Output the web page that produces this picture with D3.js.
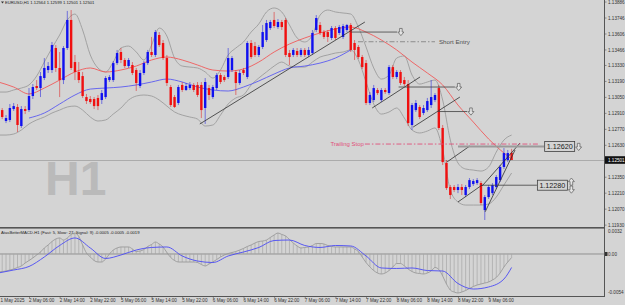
<!DOCTYPE html>
<html>
<head>
<meta charset="utf-8">
<script src="https://cdn.jsdelivr.net/npm/d3@7"></script>
<style>
  html, body { margin: 0; padding: 0; background: #d4d4d4; }
  svg { display: block; font-family: "Liberation Sans", Arial, sans-serif; }
</style>
</head>
<body>
<div id="chart"></div>
<script>
// EURUSD H1, bars from 1 May 22:00 to 9 May 12:00
const opens = [1.12966,1.12939,1.12843,1.12852,1.12948,1.12966,1.12799,1.12948,1.12939,1.13062,
  1.13150,1.13132,1.13220,1.13290,1.13290,1.13483,1.13308,1.13202,1.13483,1.13729,
  1.13360,1.13273,1.13237,1.13053,1.13036,1.13036,1.13045,1.13027,1.13053,1.13202,
  1.13202,1.13351,1.13448,1.13378,1.13325,1.13334,1.13290,1.13150,1.13264,1.13351,
  1.13448,1.13422,1.13597,1.13527,1.13395,1.13141,1.13053,1.13001,1.13159,1.13115,
  1.13132,1.13159,1.13159,1.13159,1.12957,1.13132,1.13053,1.13132,1.13246,1.13229,
  1.13229,1.13290,1.13273,1.13176,1.13290,1.13229,1.13527,1.13500,1.13422,1.13492,
  1.13553,1.13658,1.13729,1.13667,1.13711,1.13729,1.13439,1.13422,1.13457,1.13422,
  1.13466,1.13422,1.13439,1.13641,1.13685,1.13623,1.13623,1.13571,1.13658,1.13615,
  1.13580,1.13641,1.13685,1.13527,1.13492,1.13404,1.13351,1.13001,1.13027,1.13115,
  1.13027,1.13115,1.13088,1.13316,1.13229,1.13273,1.13202,1.13167,1.12808,1.12939,
  1.12966,1.12913,1.12939,1.12983,1.13027,1.13132,1.12782,1.12475,1.12264,1.12264,
  1.12238,1.12264,1.12194,1.12264,1.12290,1.12299,1.12299,1.12062,1.12176,1.12211,
  1.12264,1.12325,1.12440,1.12501,1.12564]
const highs = [1.12983,1.12957,1.12895,1.12992,1.13001,1.12992,1.12974,1.12974,1.13132,1.13167,
  1.13202,1.13273,1.13395,1.13360,1.13536,1.13509,1.13448,1.13500,1.13808,1.13816,
  1.13422,1.13360,1.13273,1.13080,1.13062,1.13053,1.13071,1.13115,1.13237,1.13246,
  1.13369,1.13466,1.13483,1.13395,1.13395,1.13360,1.13308,1.13290,1.13369,1.13466,
  1.13580,1.13641,1.13623,1.13553,1.13422,1.13159,1.13071,1.13159,1.13185,1.13176,
  1.13185,1.13176,1.13185,1.13185,1.13220,1.13159,1.13159,1.13264,1.13264,1.13246,
  1.13483,1.13413,1.13290,1.13290,1.13308,1.13544,1.13553,1.13536,1.13509,1.13685,
  1.13729,1.13729,1.13799,1.13737,1.13729,1.13746,1.13466,1.13483,1.13483,1.13483,
  1.13483,1.13492,1.13641,1.13772,1.13711,1.13641,1.13641,1.13676,1.13676,1.13685,
  1.13694,1.13694,1.13702,1.13553,1.13509,1.13422,1.13378,1.13097,1.13159,1.13132,
  1.13132,1.13132,1.13334,1.13334,1.13290,1.13290,1.13229,1.13202,1.13001,1.13027,
  1.12983,1.12983,1.13045,1.13202,1.13088,1.13159,1.12808,1.12501,1.12282,1.12282,
  1.12290,1.12290,1.12282,1.12343,1.12334,1.12343,1.12317,1.12194,1.12282,1.12299,
  1.12369,1.12457,1.12606,1.12589,1.12599]
const lows = [1.12904,1.12860,1.12825,1.12834,1.12931,1.12746,1.12782,1.12904,1.12922,1.13036,
  1.13115,1.13053,1.13202,1.13264,1.13264,1.13273,1.13053,1.13167,1.13466,1.13290,
  1.13202,1.13176,1.13045,1.12992,1.12992,1.12948,1.12939,1.12992,1.13036,1.13185,
  1.13185,1.13334,1.13351,1.13308,1.13308,1.13246,1.13106,1.13132,1.13246,1.13334,
  1.13404,1.13404,1.13492,1.13378,1.13150,1.12966,1.12957,1.12983,1.13097,1.13106,
  1.13115,1.13097,1.13053,1.12869,1.12817,1.13027,1.13036,1.13115,1.13167,1.13185,
  1.13211,1.13273,1.13071,1.13159,1.13246,1.13211,1.13387,1.13404,1.13404,1.13474,
  1.13536,1.13641,1.13658,1.13650,1.13641,1.13404,1.13334,1.13404,1.13404,1.13404,
  1.13404,1.13404,1.13422,1.13623,1.13597,1.13562,1.13536,1.13553,1.13553,1.13597,
  1.13562,1.13623,1.13448,1.13378,1.13387,1.13299,1.12983,1.12983,1.13009,1.13071,
  1.13009,1.13080,1.13071,1.13211,1.13211,1.13159,1.13150,1.12799,1.12764,1.12922,
  1.12860,1.12895,1.12922,1.12957,1.13009,1.12764,1.12457,1.12238,1.12159,1.12220,
  1.12211,1.12194,1.12176,1.12246,1.12273,1.12282,1.12106,1.11975,1.12159,1.12194,
  1.12246,1.12308,1.12422,1.12483,1.12501]
const closes = [1.12922,1.12878,1.12869,1.12957,1.12974,1.12808,1.12948,1.12931,1.13062,1.13141,
  1.13132,1.13237,1.13308,1.13325,1.13509,1.13308,1.13202,1.13483,1.13729,1.13308,
  1.13273,1.13202,1.13062,1.13018,1.13009,1.12974,1.12974,1.13088,1.13220,1.13229,
  1.13351,1.13439,1.13378,1.13325,1.13378,1.13264,1.13176,1.13264,1.13351,1.13448,
  1.13422,1.13623,1.13509,1.13395,1.13176,1.12983,1.12966,1.13141,1.13115,1.13150,
  1.13159,1.13115,1.13071,1.12939,1.13185,1.13071,1.13141,1.13246,1.13185,1.13202,
  1.13395,1.13395,1.13176,1.13264,1.13264,1.13527,1.13404,1.13422,1.13492,1.13623,
  1.13702,1.13711,1.13676,1.13711,1.13667,1.13422,1.13404,1.13466,1.13422,1.13466,
  1.13422,1.13466,1.13615,1.13746,1.13615,1.13580,1.13580,1.13658,1.13571,1.13667,
  1.13676,1.13685,1.13466,1.13466,1.13404,1.13316,1.13001,1.13071,1.13132,1.13088,
  1.13115,1.13097,1.13316,1.13229,1.13273,1.13176,1.13167,1.12825,1.12983,1.13001,
  1.12878,1.12957,1.13018,1.13053,1.13071,1.12782,1.12483,1.12255,1.12194,1.12238,
  1.12264,1.12238,1.12264,1.12325,1.12317,1.12325,1.12124,1.12176,1.12264,1.12282,
  1.12352,1.12440,1.12562,1.12562,1.12501]

// Bollinger bands, read every second bar
const bandIdx = d3.range(0, 135, 2)
const bandUpper = [1.13097,1.13097,1.13115,1.13132,1.13159,1.13237,1.13360,1.13483,1.13597,1.13729,
  1.13781,1.13641,1.13422,1.13308,1.13273,1.13360,1.13483,1.13500,1.13448,1.13378,
  1.13509,1.13658,1.13588,1.13395,1.13325,1.13316,1.13308,1.13273,1.13220,1.13290,
  1.13422,1.13483,1.13536,1.13623,1.13694,1.13799,1.13834,1.13799,1.13685,1.13571,
  1.13536,1.13597,1.13772,1.13816,1.13799,1.13790,1.13781,1.13667,1.13492,1.13308,
  1.13211,1.13246,1.13395,1.13413,1.13246,1.13167,1.13185,1.13202,1.13027,1.12676,
  1.12475,1.12422,1.12413,1.12404,1.12440,1.12571,1.12676,1.12720]
const bandLower = [1.12720,1.12720,1.12729,1.12764,1.12817,1.12852,1.12878,1.12913,1.12939,1.12966,
  1.12974,1.12939,1.12878,1.12843,1.12852,1.12904,1.12957,1.13027,1.13062,1.13071,
  1.13062,1.13027,1.12974,1.12922,1.12895,1.12878,1.12860,1.12799,1.12808,1.12895,
  1.12992,1.13045,1.13071,1.13159,1.13220,1.13273,1.13325,1.13360,1.13325,1.13316,
  1.13316,1.13360,1.13404,1.13422,1.13439,1.13448,1.13466,1.13378,1.13185,1.12992,
  1.12904,1.12922,1.12957,1.12869,1.12764,1.12738,1.12755,1.12782,1.12589,1.12238,
  1.12133,1.12106,1.12106,1.12106,1.12115,1.12176,1.12282,1.12387]

// moving averages, read every fourth bar
const redIdx = [0,4,8,12,16,20,24,28,32,36,40,44,48,52,56,60,64,68,72,76,80,84,88,92,96,100,104,108,112,116,120,124,128,132,134]
const redMa = [1.13185,1.13141,1.13080,1.13132,1.13202,1.13273,1.13308,1.13273,1.13290,1.13325,
  1.13378,1.13404,1.13378,1.13334,1.13290,1.13281,1.13299,1.13360,1.13448,1.13518,
  1.13571,1.13615,1.13650,1.13667,1.13623,1.13553,1.13466,1.13360,1.13264,1.13159,
  1.12983,1.12834,1.12685,1.12562,1.12510]
const blueIdx = [8,12,16,20,24,28,32,36,40,44,48,52,56,60,64,68,72,76,80,84,88,92]
const blueMa = [1.12869,1.12913,1.12992,1.13071,1.13123,1.13132,1.13141,1.13159,1.13185,1.13211,
  1.13185,1.13141,1.13115,1.13106,1.13141,1.13194,1.13255,1.13308,1.13325,1.13351,
  1.13395,1.13466]

// MACD (5, 27, 9): main value per bar, signal read every fourth bar
const macd = [-0.00254,-0.00247,-0.00240,-0.00226,-0.00212,-0.00190,-0.00169,-0.00127,-0.00092,-0.00056,
  -0.00014,0.00028,0.00085,0.00127,0.00176,0.00212,0.00226,0.00197,0.00226,0.00275,
  0.00296,0.00247,0.00127,0.00014,-0.00042,-0.00092,-0.00113,-0.00113,-0.00070,0.0,
  0.00056,0.00085,0.00099,0.00099,0.00099,0.00071,0.00035,0.00042,0.00063,0.00106,
  0.00134,0.00169,0.00141,0.00099,0.00021,-0.00049,-0.00092,-0.00113,-0.00113,-0.00113,
  -0.00113,-0.00113,-0.00120,-0.00148,-0.00169,-0.00141,-0.00113,-0.00078,-0.00042,-0.00014,
  0.00007,0.00021,0.00035,0.00056,0.00078,0.00106,0.00127,0.00155,0.00176,0.00183,
  0.00197,0.00233,0.00268,0.00296,0.00275,0.00254,0.00204,0.00155,0.00113,0.00085,
  0.00092,0.00099,0.00120,0.00148,0.00148,0.00141,0.00120,0.00106,0.00099,0.00099,
  0.00099,0.00099,0.00099,0.00071,0.00035,-0.00042,-0.00120,-0.00183,-0.00233,-0.00268,
  -0.00282,-0.00268,-0.00233,-0.00183,-0.00134,-0.00134,-0.00169,-0.00212,-0.00247,-0.00268,
  -0.00275,-0.00282,-0.00268,-0.00240,-0.00190,-0.00219,-0.00310,-0.00423,-0.00508,-0.00536,
  -0.00550,-0.00536,-0.00515,-0.00486,-0.00458,-0.00437,-0.00423,-0.00409,-0.00395,-0.00367,
  -0.00331,-0.00268,-0.00183,-0.00113,-0.0005]
const signalIdx = redIdx
const signal = [-0.00268,-0.00226,-0.00176,-0.00042,0.00120,0.00226,0.00085,-0.00063,-0.00014,0.00056,
  0.00092,0.00099,-0.00028,-0.00099,-0.00120,-0.00028,0.00028,0.00092,0.00190,0.00197,
  0.00120,0.00092,0.00120,0.00113,-0.00028,-0.00197,-0.00204,-0.00197,-0.00233,-0.00240,
  -0.00416,-0.00494,-0.00465,-0.00353,-0.0019]

// axes
const priceTicks = [1.13886,1.13746,1.13606,1.13466,1.13330,1.13190,1.13050,1.12910,1.12770,1.12630,1.12350,1.12210,1.12070,1.11930]
const timeTickIdx = [0,8,16,24,32,40,48,56,64,72,80,88,96,104,112,120,128]
const timeLabels = ['1 May 2025','2 May 06:00','2 May 14:00','2 May 22:00','5 May 06:00','5 May 14:00',
  '5 May 22:00','6 May 06:00','6 May 14:00','6 May 22:00','7 May 06:00','7 May 14:00','7 May 22:00',
  '8 May 06:00','8 May 14:00','8 May 22:00','9 May 06:00']

// objects drawn on the chart: [bar1, price1, bar2, price2]
const trendLines = [
  [52.6, 1.12817, 95.7, 1.13711],
  [97.6, 1.12957, 110.1, 1.13229],
  [108.3, 1.12790, 120.5, 1.13053],
  [117.1, 1.12483, 123.1, 1.12624],
  [120.0, 1.12133, 126.3, 1.12282],
  [127.1, 1.12047, 134.9, 1.12589],
  [126.3, 1.12273, 136.2, 1.12650]
]
// horizontal lines ending in a down arrow: [from bar, to bar, price]
const arrowLines = [
  [92, 104.1, 1.13623],
  [104.5, 119.2, 1.13141],
  [114.8, 122.4, 1.12926]
]
const shortEntry = [93.9, 114, 1.13538]
const trailingStop = [95.7, 141.4, 1.12641]
const levelHigh = [120, 142.5, 1.12620]
const levelLow = [126.3, 140.6, 1.12280]

const W = 625, H = 305, axisX = 604
const x = d3.scaleLinear().domain([0, 134]).range([-1.64, 511.6])
const y = d3.scaleLinear().domain([1.13904, 1.11975]).range([0, 220])
const ym = d3.scaleLinear().domain([0.0032, -0.0054]).range([231.3, 292.3])

const svg = d3.select('#chart').append('svg').attr('width', W).attr('height', H)
svg.append('rect').attr('width', W).attr('height', H).attr('fill', '#d4d4d4')

const defs = svg.append('defs')
defs.append('clipPath').attr('id', 'mainClip').append('rect')
  .attr('x', 0).attr('y', 0).attr('width', axisX).attr('height', 227)
defs.append('clipPath').attr('id', 'subClip').append('rect')
  .attr('x', 0).attr('y', 229).attr('width', axisX).attr('height', 67)

const main = svg.append('g').attr('clip-path', 'url(#mainClip)')

// watermark
main.append('text').attr('x', 45).attr('y', 195)
  .attr('font-size', 48).attr('font-weight', 'bold').attr('fill', '#bababa').text('H1')

// bid line
main.append('line').attr('x1', 0).attr('x2', axisX)
  .attr('y1', Math.round(y(closes[134])) + 0.5).attr('y2', Math.round(y(closes[134])) + 0.5)
  .attr('stroke', '#ababab')

const lineOf = (idx, vals, ys) => d3.line()
  .x((d, k) => x(idx[k])).y(d => ys(d)).curve(d3.curveMonotoneX)(vals)

// bollinger bands
main.append('path').attr('d', lineOf(bandIdx, bandUpper, y))
  .attr('fill', 'none').attr('stroke', '#9c9c9c').attr('stroke-width', 0.9)
main.append('path').attr('d', lineOf(bandIdx, bandLower, y))
  .attr('fill', 'none').attr('stroke', '#9c9c9c').attr('stroke-width', 0.9)

// moving averages
main.append('path').attr('d', lineOf(redIdx, redMa, y))
  .attr('fill', 'none').attr('stroke', '#f05a5a').attr('stroke-width', 0.9)
main.append('path').attr('d', lineOf(blueIdx, blueMa, y))
  .attr('fill', 'none').attr('stroke', '#5a5af0').attr('stroke-width', 0.9)

// candles
const bars = d3.range(closes.length)
const up = i => closes[i] >= opens[i]
main.append('g').selectAll('line').data(bars).enter().append('line')
  .attr('x1', i => x(i)).attr('x2', i => x(i))
  .attr('y1', i => y(highs[i])).attr('y2', i => y(lows[i]))
  .attr('stroke', i => up(i) ? '#2020e0' : '#e02020')
  .attr('stroke-opacity', 0.55).attr('stroke-width', 1)
main.append('g').selectAll('rect').data(bars).enter().append('rect')
  .attr('x', i => x(i) - 1.2).attr('width', 2.4)
  .attr('y', i => y(Math.max(opens[i], closes[i])))
  .attr('height', i => Math.max(1, Math.abs(y(opens[i]) - y(closes[i]))))
  .attr('fill', i => up(i) ? '#1010f0' : '#f01010')

// hollow arrow mark, centred on (cx, cy)
function arrow(g, cx, cy, dir) {
  const s = dir === 'down' ? 1 : -1
  const pts = [[-1.3, -3.6], [1.3, -3.6], [1.3, 0], [3, 0], [0, 3.6], [-3, 0], [-1.3, 0]]
  g.append('path')
    .attr('d', 'M' + pts.map(p => (cx + p[0]) + ',' + (cy + s * p[1])).join('L') + 'Z')
    .attr('fill', '#e4e4e4').attr('stroke', '#5a5a5a').attr('stroke-width', 0.7)
}

// chart objects
main.append('g').selectAll('line').data(trendLines).enter().append('line')
  .attr('x1', d => x(d[0])).attr('y1', d => y(d[1]))
  .attr('x2', d => x(d[2])).attr('y2', d => y(d[3]))
  .attr('stroke', '#303030').attr('stroke-width', 0.8)

main.append('g').selectAll('line').data(arrowLines).enter().append('line')
  .attr('x1', d => x(d[0])).attr('x2', d => x(d[1]))
  .attr('y1', d => y(d[2])).attr('y2', d => y(d[2]))
  .attr('stroke', '#404040').attr('stroke-width', 0.8)
arrowLines.forEach(d => arrow(main, x(d[1]) + 3.8, y(d[2]), 'down'))

// short entry
main.append('line').attr('x1', x(shortEntry[0])).attr('x2', x(shortEntry[1]))
  .attr('y1', y(shortEntry[2])).attr('y2', y(shortEntry[2]))
  .attr('stroke', '#8c8c8c').attr('stroke-width', 1).attr('stroke-dasharray', '5,2,1.5,2')
main.append('text').attr('x', x(shortEntry[1]) + 4).attr('y', y(shortEntry[2]) + 2.2)
  .attr('font-size', 6.2).attr('fill', '#505050').text('Short Entry')

// trailing stop
main.append('line').attr('x1', x(trailingStop[0])).attr('x2', x(trailingStop[1]))
  .attr('y1', y(trailingStop[2])).attr('y2', y(trailingStop[2]))
  .attr('stroke', '#e0507a').attr('stroke-width', 0.9).attr('stroke-dasharray', '5,2,1.5,2')
main.append('text').attr('x', x(trailingStop[0]) - 1).attr('y', y(trailingStop[2]) + 2.1)
  .attr('text-anchor', 'end').attr('font-size', 6).attr('fill', '#e0507a').text('Trailing Stop')

// price level lines with labels
main.append('line').attr('x1', x(levelHigh[0])).attr('x2', x(levelHigh[1]))
  .attr('y1', y(levelHigh[2])).attr('y2', y(levelHigh[2]))
  .attr('stroke', '#9a9a9a').attr('stroke-width', 2)
main.append('line').attr('x1', x(levelLow[0])).attr('x2', x(levelLow[1]))
  .attr('y1', y(levelLow[2])).attr('y2', y(levelLow[2]))
  .attr('stroke', '#404040').attr('stroke-width', 0.8)

function levelBox(lv, arrows) {
  const bx = x(lv[1]), by = y(lv[2])
  main.append('rect').attr('x', bx + 0.5).attr('y', by - 5).attr('width', 30).attr('height', 10)
    .attr('fill', '#d4d4d4').attr('stroke', '#404040').attr('stroke-width', 0.8)
  main.append('text').attr('x', bx + 15.5).attr('y', by + 2.6).attr('text-anchor', 'middle')
    .attr('font-size', 7.2).attr('fill', '#202020').text(lv[2].toFixed(5))
  arrows.forEach(a => arrow(main, bx + 34.5, by + a[1], a[0]))
}
levelBox(levelHigh, [['down', 0.5]])
levelBox(levelLow, [['up', -3.6], ['down', 4.4]])

// header
svg.append('path').attr('d', 'M1,1.5 L4,1.5 L2.5,3.5 Z').attr('fill', '#333')
svg.append('text').attr('x', 5).attr('y', 4.3).attr('font-size', 4.2).attr('fill', '#222')
  .text('EURUSD,H1  1.12564 1.12599 1.12501 1.12501')

// MACD subwindow
const sub = svg.append('g').attr('clip-path', 'url(#subClip)')
sub.append('line').attr('x1', 0).attr('x2', axisX)
  .attr('y1', ym(0)).attr('y2', ym(0)).attr('stroke', '#808080').attr('stroke-width', 0.8)
sub.append('g').selectAll('line').data(bars).enter().append('line')
  .attr('x1', i => x(i)).attr('x2', i => x(i))
  .attr('y1', ym(0)).attr('y2', i => ym(macd[i]))
  .attr('stroke', '#a6a6a6').attr('stroke-width', 0.7)
sub.append('path').attr('d', d3.line().x((d, i) => x(i)).y(d => ym(d)).curve(d3.curveMonotoneX)(macd))
  .attr('fill', 'none').attr('stroke', '#9a9a9a').attr('stroke-width', 0.9)
sub.append('path').attr('d', lineOf(signalIdx, signal, ym))
  .attr('fill', 'none').attr('stroke', '#4a4af5').attr('stroke-width', 0.9)
svg.append('text').attr('x', 1).attr('y', 234.3).attr('font-size', 4.2).attr('fill', '#222')
  .text('AtasBetterMACD-H1 (Fast: 5, Slow: 27, Signal: 9) -0.0005 -0.0005 -0.0019')

// frames
svg.append('rect').attr('x', 0).attr('y', 227).attr('width', axisX + 1).attr('height', 1.6).attr('fill', '#555')
svg.append('line').attr('x1', 0).attr('x2', axisX + 1).attr('y1', 296.5).attr('y2', 296.5)
  .attr('stroke', '#555')
svg.append('line').attr('x1', axisX + 0.5).attr('x2', axisX + 0.5).attr('y1', 0).attr('y2', 297)
  .attr('stroke', '#555')

// price axis
const pa = svg.append('g').attr('font-size', 4.6).attr('fill', '#333')
pa.selectAll('text').data(priceTicks).enter().append('text')
  .attr('x', axisX + 4).attr('y', d => y(d) + 1.6).text(d => d.toFixed(5))
pa.selectAll('line').data(priceTicks).enter().append('line')
  .attr('x1', axisX).attr('x2', axisX + 2.5).attr('y1', d => y(d)).attr('y2', d => y(d))
  .attr('stroke', '#555').attr('stroke-width', 0.6)
const cy = y(closes[134])
svg.append('rect').attr('x', axisX + 1).attr('y', cy - 3.8).attr('width', W - axisX - 1).attr('height', 7.6)
  .attr('fill', '#111')
svg.append('text').attr('x', axisX + 4).attr('y', cy + 1.6).attr('font-size', 4.6).attr('fill', '#fff')
  .text(closes[134].toFixed(5))

// macd axis
const macdTicks = [0.0032, 0, -0.0054]
svg.append('g').selectAll('text').data(macdTicks).enter().append('text')
  .attr('x', axisX + 4).attr('y', d => ym(d) + 1.6).attr('font-size', 4.6).attr('fill', '#333')
  .text(d => d === 0 ? '0.00' : d.toFixed(4))
svg.append('rect').attr('x', axisX + 1).attr('y', ym(0) - 2).attr('width', 2.5).attr('height', 4)
  .attr('fill', '#333')

// time axis (first label kept inside the window)
svg.append('g').selectAll('text').data(timeTickIdx).enter().append('text')
  .attr('x', i => Math.max(0.5, x(i))).attr('y', 302).attr('font-size', 4.6).attr('fill', '#333')
  .text((i, k) => timeLabels[k])
svg.append('g').selectAll('line').data(timeTickIdx).enter().append('line')
  .attr('x1', i => x(i) + 0.5).attr('x2', i => x(i) + 0.5).attr('y1', 296.5).attr('y2', 298.5)
  .attr('stroke', '#555').attr('stroke-width', 0.6)
</script>
</body>
</html>
